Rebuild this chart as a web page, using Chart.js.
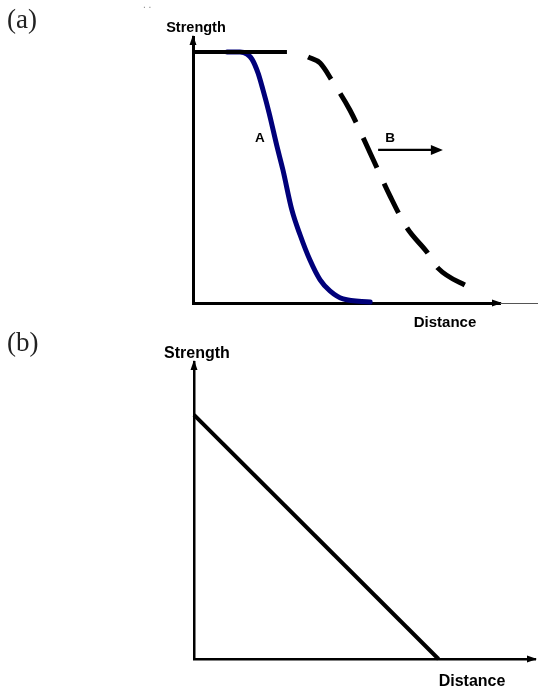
<!DOCTYPE html>
<html><head><meta charset="utf-8">
<script src="https://cdn.jsdelivr.net/npm/chart.js@4/dist/chart.umd.min.js"></script>
<style>
html,body{margin:0;padding:0;background:#fff;width:538px;height:691px;overflow:hidden}
body{position:relative}
canvas{position:absolute;left:0}
#ca{top:0}
#cb{top:330px}
</style></head><body>
<canvas id="ca" width="538" height="345"></canvas>
<canvas id="cb" width="538" height="361"></canvas>
<script>
// ---- Panel (a) data (arbitrary units: distance 0-100, strength 0-100) ----
const flatX = [0, 30.6];
const flatY = [100, 100];
const curveAX = [11.1, 15.3, 17.6, 19.2, 21.2, 22.8, 24.8, 27.4, 29.3, 32.2, 34.9, 38.1, 41.4, 44.6, 48.9, 57.7];
const curveAY = [100, 100, 99.2, 97.2, 91.6, 84.9, 75.7, 62.2, 53.0, 37.1, 27.1, 17.1, 9.2, 4.8, 1.6, 0.4];
const curveBX = [37.5, 41.4, 45.6, 51.1, 57.7, 64.2, 69.7, 76.2, 79.8, 90.2];
const curveBY = [98.0, 95.6, 88.0, 76.9, 59.8, 42.6, 29.9, 20.3, 13.9, 6.0];
const shiftArrowX = [60.3, 81.4];
const shiftArrowY = [61.0, 61.0];
const labelA = {text: 'A', x: 21.8, y: 64};
const labelB = {text: 'B', x: 64.2, y: 64};
// ---- Panel (b) data ----
const lineBX = [0, 71.7];
const lineBY = [82.2, 0];
const axisTitleY = 'Strength';
const axisTitleX = 'Distance';

const pts = (xs, ys) => xs.map((x, i) => ({x, y: ys[i]}));

const BOLD = '"Liberation Sans", Arial, sans-serif';
const SERIF = '"Liberation Serif", "Times New Roman", serif';

const deco = {
  id: 'deco',
  afterDraw(chart, args, o) {
    const ctx = chart.ctx, xs = chart.scales.x, ys = chart.scales.y;
    const ox = xs.getPixelForValue(xs.min), oy = ys.getPixelForValue(ys.min);
    const tx = xs.getPixelForValue(xs.max), ty = ys.getPixelForValue(ys.max);
    ctx.save();
    ctx.fillStyle = '#000'; ctx.strokeStyle = '#000';
    // y-axis arrowhead
    ctx.beginPath();
    ctx.moveTo(ox, ty - 2); ctx.lineTo(ox - 3.5, ty + 8); ctx.lineTo(ox + 3.5, ty + 8); ctx.closePath(); ctx.fill();
    // x-axis arrowhead
    ctx.beginPath();
    ctx.moveTo(tx + 2, oy); ctx.lineTo(tx - 8, oy - 3.5); ctx.lineTo(tx - 8, oy + 3.5); ctx.closePath(); ctx.fill();
    if (o.extend) {
      ctx.strokeStyle = '#555'; ctx.lineWidth = 1.2;
      ctx.beginPath(); ctx.moveTo(tx, oy + 0.5); ctx.lineTo(chart.width, oy + 0.5); ctx.stroke();
    }
    // shift arrow
    if (o.arrow) {
      const a1 = xs.getPixelForValue(shiftArrowX[0]), a2 = xs.getPixelForValue(shiftArrowX[1]);
      const ay = ys.getPixelForValue(shiftArrowY[0]);
      ctx.strokeStyle = '#000'; ctx.lineWidth = 2.2;
      ctx.beginPath(); ctx.moveTo(a1, ay); ctx.lineTo(a2 - 8, ay); ctx.stroke();
      ctx.beginPath(); ctx.moveTo(a2, ay); ctx.lineTo(a2 - 12, ay - 5); ctx.lineTo(a2 - 12, ay + 5); ctx.closePath(); ctx.fill();
    }
    // texts
    ctx.textAlign = 'center'; ctx.textBaseline = 'alphabetic';
    for (const t of o.texts) {
      ctx.font = t.font; ctx.fillStyle = t.color || '#000';
      ctx.textAlign = t.align || 'center';
      let x = t.x, y = t.y;
      if (t.data) { x = xs.getPixelForValue(t.x); y = ys.getPixelForValue(t.y); }
      ctx.fillText(t.text, x, y);
    }
    ctx.restore();
  }
};

const axisOpts = (min, max) => ({
  type: 'linear', min, max, display: true,
  ticks: {display: false},
  grid: {display: false, drawTicks: false},
  border: {display: true, color: '#000', width: 3}
});

new Chart(document.getElementById('ca'), {
  type: 'line',
  data: {datasets: [
    {data: pts(flatX, flatY), borderColor: '#000', borderWidth: 4, pointRadius: 0, tension: 0},
    {data: pts(curveAX, curveAY), borderColor: '#00007a', borderWidth: 5, pointRadius: 0, cubicInterpolationMode: 'monotone', borderCapStyle: 'round', borderJoinStyle: 'round'},
    {data: pts(curveBX, curveBY), borderColor: '#000', borderWidth: 5, pointRadius: 0, cubicInterpolationMode: 'monotone', borderDash: [33, 17]}
  ]},
  options: {
    responsive: false, animation: false, events: [],
    layout: {padding: {left: 193, right: 38, top: 37, bottom: 42}},
    scales: {x: axisOpts(0, 100), y: axisOpts(0, 106)},
    datasets: {line: {clip: false}},
    plugins: {
      legend: {display: false}, tooltip: {enabled: false},
      deco: {extend: true, arrow: true, texts: [
        {text: '(a)', x: 7, y: 28, font: '27px ' + SERIF, align: 'left', color: '#222'},
        {text: '. .', x: 143, y: 8, font: '10px ' + BOLD, align: 'left', color: '#888'},
        {text: axisTitleY, x: 196, y: 32, font: 'bold 14.5px ' + BOLD},
        {text: axisTitleX, x: 445, y: 327, font: 'bold 15px ' + BOLD},
        {text: labelA.text, x: labelA.x, y: labelA.y, data: true, font: 'bold 13.5px ' + BOLD},
        {text: labelB.text, x: labelB.x, y: labelB.y, data: true, font: 'bold 13.5px ' + BOLD}
      ]}
    }
  },
  plugins: [deco]
});

const axisB = (min, max) => Object.assign(axisOpts(min, max), {border: {display: true, color: '#000', width: 2.5}});

new Chart(document.getElementById('cb'), {
  type: 'line',
  data: {datasets: [
    {data: pts(lineBX, lineBY), borderColor: '#000', borderWidth: 4, pointRadius: 0, tension: 0}
  ]},
  options: {
    responsive: false, animation: false, events: [],
    layout: {padding: {left: 194, right: 3, top: 32, bottom: 32}},
    scales: {x: axisB(0, 100), y: axisB(0, 100)},
    datasets: {line: {clip: false}},
    plugins: {
      legend: {display: false}, tooltip: {enabled: false},
      deco: {extend: false, arrow: false, texts: [
        {text: '(b)', x: 7, y: 21, font: '27px ' + SERIF, align: 'left', color: '#222'},
        {text: axisTitleY, x: 197, y: 28, font: 'bold 16px ' + BOLD},
        {text: axisTitleX, x: 472, y: 356, font: 'bold 16px ' + BOLD}
      ]}
    }
  },
  plugins: [deco]
});
</script>
</body></html>
